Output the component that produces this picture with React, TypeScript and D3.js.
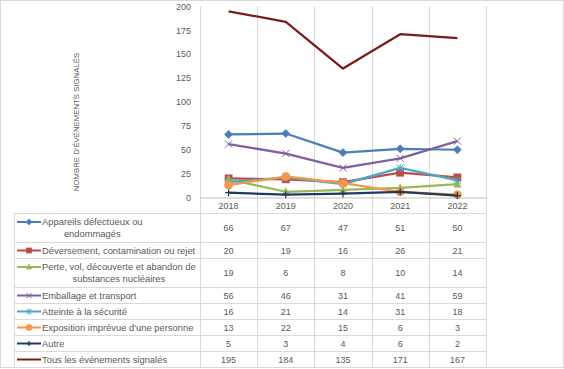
import React from 'react';
import { scaleBand, scaleLinear, line, range } from 'd3';

const years = ['2018', '2019', '2020', '2021', '2022'];
const yTicks = [0, 25, 50, 75, 100, 125, 150, 175, 200];

const appareils = [66, 67, 47, 51, 50];
const deversement = [20, 19, 16, 26, 21];
const perte = [19, 6, 8, 10, 14];
const emballage = [56, 46, 31, 41, 59];
const atteinte = [16, 21, 14, 31, 18];
const exposition = [13, 22, 15, 6, 3];
const autre = [5, 3, 4, 6, 2];
const tous = [195, 184, 135, 171, 167];

const series = [
  { lines: ['Appareils défectueux ou', 'endommagés'], values: appareils, color: '#4a7ebb', marker: 'diamond' },
  { lines: ['Déversement, contamination ou rejet'], values: deversement, color: '#be4b48', marker: 'square' },
  { lines: ['Perte, vol, découverte et abandon de', 'substances nucléaires'], values: perte, color: '#98b954', marker: 'triangle' },
  { lines: ['Emballage et transport'], values: emballage, color: '#7d60a0', marker: 'x' },
  { lines: ['Atteinte à la sécurité'], values: atteinte, color: '#46aac5', marker: 'star' },
  { lines: ["Exposition imprévue d'une personne"], values: exposition, color: '#f79646', marker: 'circle' },
  { lines: ['Autre'], values: autre, color: '#1f3864', marker: 'plus' },
  { lines: ['Tous les événements signalés'], values: tous, color: '#7b1c1c', marker: 'none' },
];

const FONT = '"Liberation Sans", Arial, sans-serif';
const TXT = '#595959';
const GRID = '#d9d9d9';

let ctx: CanvasRenderingContext2D | null = null;
const measure = (s: string, size: number) => {
  if (!ctx) ctx = document.createElement('canvas').getContext('2d');
  if (!ctx) return s.length * size * 0.5;
  ctx.font = `${size}px ${FONT}`;
  return ctx.measureText(s).width;
};

const Marker = ({ type, x, y, color, s }: { type: string; x: number; y: number; color: string; s: number }) => {
  const h = s / 2;
  switch (type) {
    case 'diamond':
      return <path d={`M${x},${y - h - 0.5}L${x + h + 0.5},${y}L${x},${y + h + 0.5}L${x - h - 0.5},${y}Z`} fill={color} stroke={color} strokeWidth={0.75} />;
    case 'square':
      return <rect x={x - h} y={y - h} width={s} height={s} fill={color} stroke={color} strokeWidth={0.75} />;
    case 'triangle':
      return <path d={`M${x},${y - h - 0.5}L${x + h},${y + h - 0.5}L${x - h},${y + h - 0.5}Z`} fill={color} stroke={color} strokeWidth={0.75} />;
    case 'x':
      return <path d={`M${x - h},${y - h}L${x + h},${y + h}M${x - h},${y + h}L${x + h},${y - h}`} stroke={color} strokeWidth={1} fill="none" />;
    case 'star':
      return <path d={`M${x - h},${y - h}L${x + h},${y + h}M${x - h},${y + h}L${x + h},${y - h}M${x},${y - h - 0.5}L${x},${y + h + 0.5}`} stroke={color} strokeWidth={1} fill="none" />;
    case 'circle':
      return <circle cx={x} cy={y} r={h + 0.5} fill={color} stroke={color} strokeWidth={0.75} />;
    case 'plus':
      return <path d={`M${x},${y - h}L${x},${y + h}M${x - h},${y}L${x + h},${y}`} stroke={color} strokeWidth={1.25} fill="none" />;
    default:
      return null;
  }
};

const App = () => {
  const W = 564;
  const H = 369;
  const plotL = 200;
  const plotR = 486;
  const plotT = 6.5;
  const plotB = 197.5;
  const tableL = 14;
  const tableT = 213;
  const singleH = 16;
  const doubleH = 29;

  const x = scaleBand<string>().domain(years).range([plotL, plotR]);
  const y = scaleLinear().domain([0, 200]).range([plotB, plotT]);
  const cx = (yr: string) => (x(yr) as number) + x.bandwidth() / 2;

  const rowTops: number[] = [];
  let acc = tableT;
  series.forEach((s) => {
    rowTops.push(acc);
    acc += s.lines.length > 1 ? doubleH : singleH;
  });
  const tableB = acc;

  const path = line<number>()
    .x((_, i) => cx(years[i]))
    .y((d) => y(d));

  const fs = 9;
  const lfs = 9.4;

  return (
    <div style={{ position: 'absolute', left: 0, top: 0 }}>
      <svg width={W} height={H} style={{ display: 'block' }} fontFamily={FONT}>
        <rect x={0} y={0} width={W} height={H} fill="#fff" />
        <rect x={0.5} y={0.5} width={W - 1} height={H - 2} fill="none" stroke={GRID} />

        {/* vertical gridlines through plot and table */}
        {range(years.length + 1).map((i) => {
          const gx = Math.round(plotL + i * x.bandwidth()) + 0.5;
          return <line key={i} x1={gx} x2={gx} y1={plotT} y2={tableB} stroke={GRID} strokeWidth={1} />;
        })}
        <line x1={tableL + 0.5} x2={tableL + 0.5} y1={tableT} y2={tableB} stroke={GRID} />
        {[...rowTops, tableB].map((ty, i) => (
          <line key={i} x1={tableL} x2={plotR + 0.5} y1={ty + 0.5} y2={ty + 0.5} stroke={GRID} />
        ))}
        <line x1={plotL} x2={plotR + 1} y1={plotB + 0.5} y2={plotB + 0.5} stroke="#bfbfbf" />

        {/* y ticks */}
        {yTicks.map((t) => (
          <text key={t} x={191} y={y(t)} dy="0.35em" textAnchor="end" fontSize={fs} fill={TXT}>
            {t}
          </text>
        ))}
        <text
          transform={`translate(79,122) rotate(-90)`}
          textAnchor="middle"
          fontSize={7.8}
          fill={TXT}
        >
          NOMBRE D'ÉVÉNEMENTS SIGNALÉS
        </text>

        {/* year header */}
        {years.map((yr) => (
          <text key={yr} x={cx(yr)} y={209} textAnchor="middle" fontSize={fs} fill={TXT}>
            {yr}
          </text>
        ))}

        {/* series lines */}
        {series.map((s, si) => (
          <g key={si}>
            <path d={path(s.values) || ''} fill="none" stroke={s.color} strokeWidth={2.25} strokeLinejoin="round" />
            {s.values.map((v, i) => (
              <Marker key={i} type={s.marker} x={cx(years[i])} y={y(v)} color={s.color} s={7} />
            ))}
          </g>
        ))}

        {/* table rows */}
        {series.map((s, si) => {
          const top = rowTops[si];
          const h = s.lines.length > 1 ? doubleH : singleH;
          const mid = top + h / 2 + 0.5;
          const textX = 42;
          const maxW = Math.max(...s.lines.map((l) => measure(l, lfs)));
          const lineH = 12;
          const firstY = mid - ((s.lines.length - 1) * lineH) / 2;
          const my = s.lines.length > 1 ? firstY : mid;
          return (
            <g key={si}>
              <line x1={17} x2={41} y1={my} y2={my} stroke={s.color} strokeWidth={2} />
              <Marker type={s.marker} x={29} y={my} color={s.color} s={5} />
              {s.lines.map((l, li) => (
                <text
                  key={li}
                  x={s.lines.length > 1 ? textX + maxW / 2 : textX}
                  y={firstY + li * lineH}
                  dy="0.35em"
                  textAnchor={s.lines.length > 1 ? 'middle' : 'start'}
                  fontSize={lfs}
                  fill={TXT}
                >
                  {l}
                </text>
              ))}
              {s.values.map((v, i) => (
                <text key={i} x={cx(years[i])} y={mid} dy="0.35em" textAnchor="middle" fontSize={fs} fill={TXT}>
                  {v}
                </text>
              ))}
            </g>
          );
        })}
      </svg>
    </div>
  );
};

export default App;
